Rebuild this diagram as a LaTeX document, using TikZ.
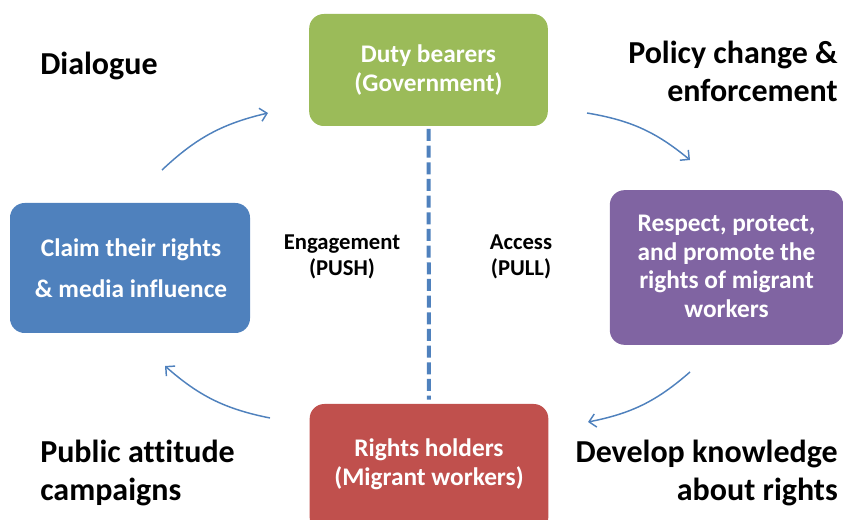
\documentclass[tikz,border=0pt]{standalone}
\usepackage{fontspec}
\setmainfont{Carlito}[Ligatures=NoCommon]
\usetikzlibrary{arrows.meta,positioning}
\definecolor{govgreen}{HTML}{9BBB59}
\definecolor{claimblue}{HTML}{4F81BD}
\definecolor{rightspurple}{HTML}{8064A2}
\definecolor{holdersred}{HTML}{C0504D}

\begin{document}
\begin{tikzpicture}[x=0.75pt,y=-0.75pt,
  actor/.style={rounded corners=11pt,text=white,align=center,inner sep=0pt,
    font=\bfseries\fontsize{19}{22}\selectfont},
  side/.style={inner sep=0pt,font=\bfseries\fontsize{24}{28.5}\selectfont},
  mid/.style={align=center,inner sep=0pt,font=\bfseries\fontsize{17}{19.5}\selectfont},
  flow/.style={draw=claimblue,line width=1.1pt,-{Straight Barb[length=5pt,width=10pt]}}]
  \useasboundingbox (0,0) rectangle (843,520);
  % the four actors
  \node[actor,fill=govgreen,minimum width=179pt,minimum height=84pt] (duty) at (428.5,70) {Duty bearers\\(Government)};
  \node[actor,fill=claimblue,minimum width=180pt,minimum height=97.5pt] (claim) at (130,268) {};
  \node[actor,font=\bfseries\fontsize{19}{30.5}\selectfont] (claimtxt) at (131,268) {Claim their rights\\\& media influence};
  \node[actor,fill=rightspurple,minimum width=175pt,minimum height=116pt] (respect) at (726.5,267.5) {};
  \node[actor,font=\bfseries\fontsize{19}{21.5}\selectfont] (respecttxt) at (726.5,266.5) {Respect, protect,\\and promote the\\rights of migrant\\workers};
  \node[actor,fill=holdersred,minimum width=179pt,minimum height=96pt] (holders) at (429,468) {};
  \node[actor] (holderstxt) at (429,464) {Rights holders\\(Migrant workers)};
  % dashed divide
  \draw[claimblue,line width=3pt,dash pattern=on 9pt off 3.5pt,shorten <=2pt,shorten >=3pt] (duty.south) -- (holders.north);
  \node[mid] (push) at (342,257) {Engagement\\(PUSH)};
  \node[mid] (pull) at (521,257) {Access\\(PULL)};
  % corner labels
  \node[side,anchor=west] (dialogue) at (40,66) {Dialogue};
  \node[side,anchor=east,align=right] (policy) at (838,71) {Policy change \&\\enforcement};
  \node[side,anchor=west,align=left] (public) at (40,473) {Public attitude\\campaigns};
  \node[side,anchor=east,align=right] (develop) at (838,473) {Develop knowledge\\about rights};
  % cycle arrows
  \coordinate (tls) at (162,170);
  \coordinate (tle) at (268,113);
  \coordinate (trs) at (587,113);
  \coordinate (tre) at (690,160);
  \coordinate (brs) at (690,372);
  \coordinate (bre) at (588,422);
  \coordinate (bls) at (270,418);
  \coordinate (ble) at (165,366);
  \draw[flow] (tls) to[bend left=15] (tle);
  \draw[flow] (trs) to[bend left=15] (tre);
  \draw[flow] (brs) to[bend left=15] (bre);
  \draw[flow] (bls) to[bend left=15] (ble);
\end{tikzpicture}
\end{document}
